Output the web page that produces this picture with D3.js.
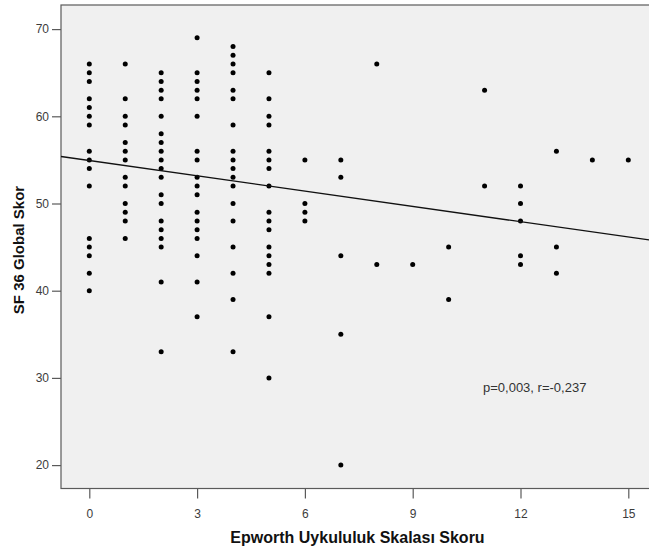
<!DOCTYPE html>
<html>
<head>
<meta charset="utf-8">
<script src="https://cdn.jsdelivr.net/npm/d3@7"></script>
<style>
  html, body { margin: 0; padding: 0; background: #fff; }
  svg { display: block; }
  text { font-family: "Liberation Sans", Arial, sans-serif; }
</style>
</head>
<body>
<svg id="chart" width="649" height="552"></svg>
<script>
// Epworth sleepiness score (x) and SF-36 global scores observed at each score
const epworthScores = [0, 1, 2, 3, 4, 5, 6, 7, 8, 9, 10, 11, 12, 13, 14, 15];
const sf36ByScore = [
  [66, 65, 64, 62, 61, 60, 59, 56, 55, 54, 52, 46, 45, 44, 42, 40],
  [66, 62, 60, 59, 57, 56, 55, 53, 52, 50, 49, 48, 46],
  [65, 64, 63, 62, 60, 58, 57, 56, 55, 54, 53, 51, 50, 48, 47, 46, 45, 41, 33],
  [69, 65, 64, 63, 62, 60, 56, 55, 53, 52, 51, 49, 48, 47, 46, 44, 41, 37],
  [68, 67, 66, 65, 63, 62, 59, 56, 55, 54, 53, 52, 50, 48, 45, 42, 39, 33],
  [65, 62, 60, 59, 56, 55, 54, 52, 49, 48, 47, 45, 44, 43, 42, 37, 30],
  [55, 50, 49, 48],
  [55, 53, 44, 35, 20],
  [66, 43],
  [43],
  [45, 39],
  [63, 52],
  [52, 50, 48, 44, 43],
  [56, 45, 42],
  [55],
  [55]
];
const xTicks = [0, 3, 6, 9, 12, 15];
const yTicks = [20, 30, 40, 50, 60, 70];
// linear fit: [intercept, slope]
const fitLine = [54.93, -0.585];
const statsLabel = "p=0,003, r=-0,237";
const xTitle = "Epworth Uykululuk Skalası Skoru";
const yTitle = "SF 36 Global Skor";

const points = [];
epworthScores.forEach((s, i) => sf36ByScore[i].forEach(v => points.push({ x: s, y: v })));

const svg = d3.select("#chart");
const frame = { left: 61, right: 652, top: 5, bottom: 488.5 };

const x = d3.scaleLinear().domain([0, 15]).range([89.3, 628.3]);
const y = d3.scaleLinear().domain([20, 70]).range([465.1, 29.1]);

// plot background
svg.append("rect")
  .attr("x", frame.left).attr("y", frame.top)
  .attr("width", frame.right - frame.left).attr("height", frame.bottom - frame.top)
  .attr("fill", "#f0f0f0")
  .attr("stroke", "#5a5a5a").attr("stroke-width", 1.2);

// axes
const xAxis = svg.append("g")
  .attr("transform", `translate(0,${frame.bottom})`)
  .call(d3.axisBottom(x).tickValues(xTicks).tickSize(10).tickPadding(11).tickSizeOuter(0));
const yAxis = svg.append("g")
  .attr("transform", `translate(${frame.left},0)`)
  .call(d3.axisLeft(y).tickValues(yTicks).tickSize(9).tickPadding(3).tickSizeOuter(0));

[xAxis, yAxis].forEach(g => {
  g.select(".domain").remove();
  g.selectAll(".tick line").attr("stroke", "#5a5a5a").attr("stroke-width", 1.2);
  g.selectAll(".tick text")
    .attr("fill", "#3c3c3c")
    .style("font-size", "12px")
    .style("font-family", "'Liberation Sans', Arial, sans-serif");
});

// points
svg.append("g").selectAll("circle")
  .data(points)
  .join("circle")
  .attr("cx", d => x(d.x))
  .attr("cy", d => y(d.y))
  .attr("r", 2.5)
  .attr("fill", "#000");

// fitted line across the plot area
const x0 = x.invert(frame.left), x1 = x.invert(649);
svg.append("line")
  .attr("x1", x(x0)).attr("y1", y(fitLine[0] + fitLine[1] * x0))
  .attr("x2", x(x1)).attr("y2", y(fitLine[0] + fitLine[1] * x1))
  .attr("stroke", "#111").attr("stroke-width", 1.3);

// annotation
svg.append("text")
  .attr("x", 483).attr("y", 391.5)
  .attr("fill", "#333")
  .style("font-size", "13px")
  .text(statsLabel);

// axis titles
svg.append("text")
  .attr("x", 357.5).attr("y", 543)
  .attr("text-anchor", "middle")
  .attr("fill", "#111")
  .style("font-size", "16px").style("font-weight", "bold")
  .text(xTitle);

svg.append("text")
  .attr("transform", "translate(24,250) rotate(-90)")
  .attr("text-anchor", "middle")
  .attr("fill", "#111")
  .style("font-size", "15px").style("font-weight", "bold")
  .text(yTitle);
</script>
</body>
</html>
